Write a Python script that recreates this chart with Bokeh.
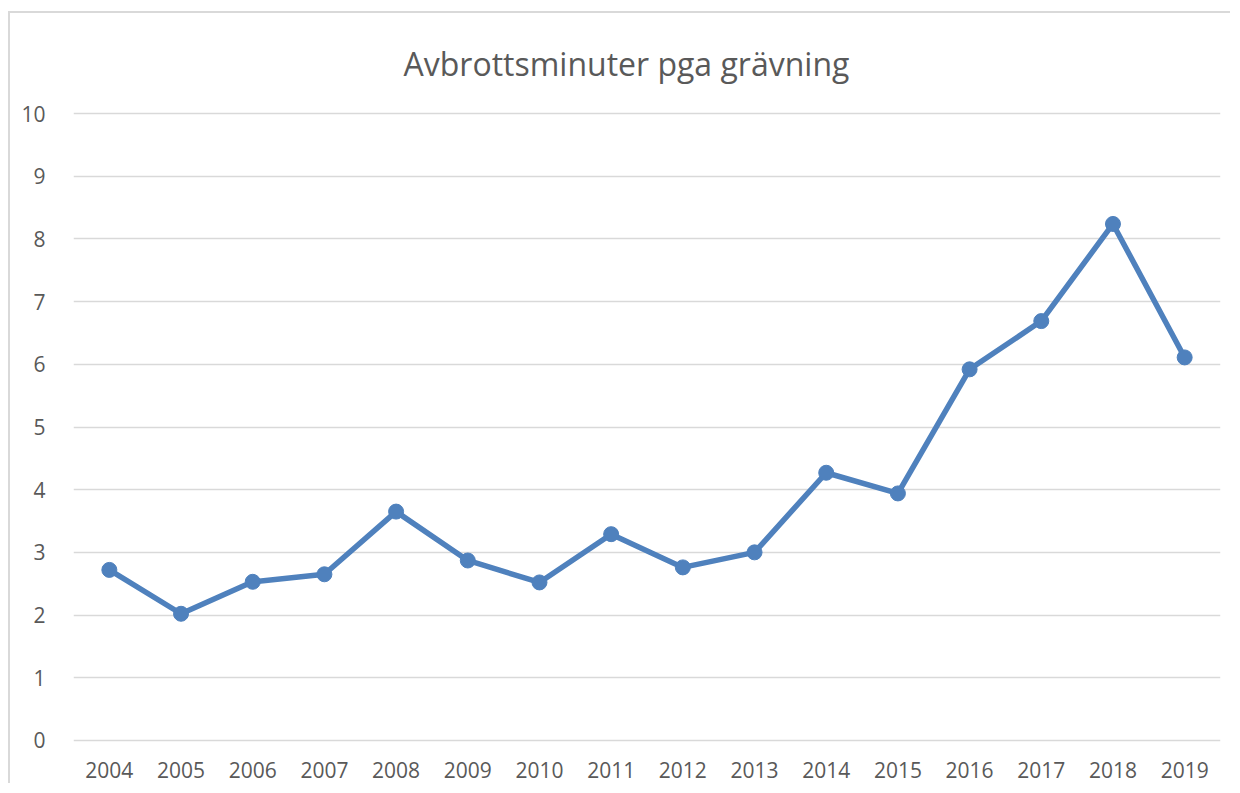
from bokeh.plotting import figure
from bokeh.models import Range1d, FactorRange, FixedTicker, ColumnDataSource
from bokeh.embed import file_html
from bokeh.resources import INLINE

years = ["2004", "2005", "2006", "2007", "2008", "2009", "2010", "2011",
         "2012", "2013", "2014", "2015", "2016", "2017", "2018", "2019"]
minutes = [2.72, 2.02, 2.53, 2.65, 3.65, 2.87, 2.52, 3.29,
           2.76, 3.00, 4.27, 3.94, 5.92, 6.69, 8.24, 6.11]
y_ticks = [0, 1, 2, 3, 4, 5, 6, 7, 8, 9, 10]
title_text = "Avbrottsminuter pga grävning"

FONT = "Open Sans"
TXT = "#595959"
BLUE = "#4f81bd"
GRID = "#d9d9d9"

src = ColumnDataSource(data=dict(year=years, value=minutes))

p = figure(
    width=1222, height=772,
    x_range=FactorRange(factors=years, range_padding=0),
    y_range=Range1d(-0.05, 10.05),
    output_backend="svg", toolbar_location=None,
    min_border_left=63, min_border_right=12, min_border_top=94, min_border_bottom=42,
)
p.styles = {"border-top": "2px solid #d9d9d9", "border-left": "2px solid #d9d9d9",
            "margin-top": "11px", "margin-left": "8px"}
p.outline_line_color = None
p.background_fill_color = "white"
p.border_fill_color = "white"

p.title.text = title_text
p.title.text_font = FONT
p.title.text_font_size = "32px"
p.title.text_color = TXT
p.title.text_font_style = "normal"
p.title.text_line_height = 0.6
p.title.align = "left"
p.title.offset = 330
p.title.standoff = 52

p.line("year", "value", source=src, line_color=BLUE, line_width=5.5, line_join="round")
p.scatter("year", "value", source=src, size=15, fill_color=BLUE, line_color=BLUE)

p.yaxis.ticker = FixedTicker(ticks=y_ticks)
p.ygrid.grid_line_color = GRID
p.ygrid.grid_line_width = 1.5
p.xgrid.grid_line_color = None

for ax in (p.xaxis, p.yaxis):
    ax.axis_line_color = None
    ax.major_tick_line_color = None
    ax.minor_tick_line_color = None
    ax.major_label_text_font = FONT
    ax.major_label_text_font_size = "21px"
    ax.major_label_text_color = TXT
p.yaxis.major_label_standoff = 22
p.xaxis.major_label_standoff = 12

open("out.html", "w").write(file_html(p, INLINE))
